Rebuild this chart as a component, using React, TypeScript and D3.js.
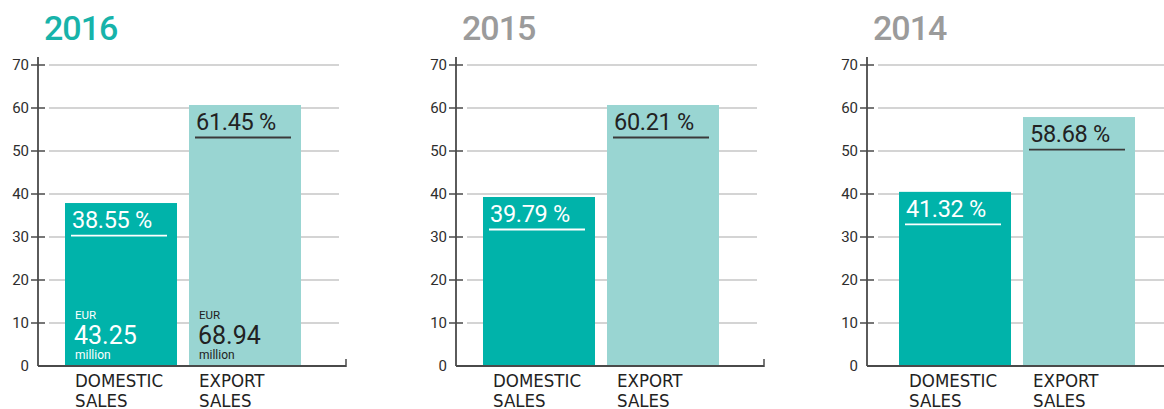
import React from 'react';
import * as d3 from 'd3';

const years = ['2016', '2015', '2014'];
const categories = ['DOMESTIC SALES', 'EXPORT SALES'];
const domesticShare = ['38.55 %', '39.79 %', '41.32 %'];
const exportShare = ['61.45 %', '60.21 %', '58.68 %'];
// bar heights as drawn in the source (slightly under the printed share)
const domesticBar = [37.9, 39.3, 40.5];
const exportBar = [60.7, 60.7, 57.9];
const revenue2016 = ['43.25', '68.94'];
const yTicks = [0, 10, 20, 30, 40, 50, 60, 70];

const W = 1164;
const H = 409;
const axisXs = [38, 456, 867];
const barStarts = [65, 483, 899];

const TEAL = '#00b3aa';
const LIGHT = '#99d5d2';
const DARK = '#222222';
const AXIS = '#4a4a4a';
const GRID = '#c6c6c6';

const numFont = 'Roboto, "DejaVu Sans", sans-serif';
const narrowFont = '"Liberation Sans Narrow", "DejaVu Sans Condensed", Roboto, sans-serif';

const y = d3.scaleLinear().domain([0, 70]).range([366, 65]);

const Panel: React.FC<{ i: number }> = ({ i }) => {
    const ax = axisXs[i];
    const x = d3.scaleBand<string>()
        .domain(categories)
        .range([barStarts[i], barStarts[i] + 236])
        .paddingInner(12 / 124)
        .paddingOuter(0);
    const values = [domesticBar[i], exportBar[i]];
    const shares = [domesticShare[i], exportShare[i]];
    const gridEnd = Math.min(ax + 301, W);

    return (
        <g>
            <text x={ax + 6} y={40} fontFamily={numFont} fontWeight={500} fontSize={34}
                letterSpacing={-1} fill={i === 0 ? '#17b3aa' : '#9b9b9b'}>{years[i]}</text>

            {yTicks.filter(t => t > 0).map(t => (
                <line key={t} x1={ax + 11} x2={gridEnd} y1={y(t)} y2={y(t)}
                    stroke={GRID} strokeWidth={1.5} />
            ))}

            {categories.map((c, j) => {
                const bx = x(c)!;
                const top = y(values[j]);
                const fg = j === 0 ? '#ffffff' : DARK;
                return (
                    <g key={c}>
                        <rect x={bx} y={top} width={x.bandwidth()} height={y(0) - top}
                            fill={j === 0 ? TEAL : LIGHT} />
                        <text x={bx + 7} y={top + 25} fontFamily={numFont} fontSize={23.5} fill={fg}
                            letterSpacing={-0.3}>{shares[j]}</text>
                        <line x1={bx + 6} x2={bx + 102} y1={top + 32.5} y2={top + 32.5}
                            stroke={j === 0 ? '#ffffff' : '#3a3a3a'} strokeWidth={1.8} />
                        {i === 0 && (
                            <g fill={fg} fontFamily={numFont}>
                                <text x={bx + 10} y={319} fontSize={11.5}>EUR</text>
                                <text x={bx + 9} y={344} fontSize={25}>{revenue2016[j]}</text>
                                <text x={bx + 10} y={359} fontSize={12}>million</text>
                            </g>
                        )}
                        {c.split(' ').map((w, k) => (
                            <text key={w} x={bx + 10} y={387 + k * 19.5} fontFamily={narrowFont}
                                fontSize={18.5} fill={DARK}>{w}</text>
                        ))}
                    </g>
                );
            })}

            <line x1={ax} x2={ax} y1={57} y2={y(0)} stroke={AXIS} strokeWidth={1.8} />
            <line x1={ax} x2={ax + 308} y1={y(0)} y2={y(0)} stroke={AXIS} strokeWidth={1.8} />
            <line x1={ax + 308} x2={ax + 308} y1={y(0) - 7} y2={y(0) + 0.9} stroke={AXIS} strokeWidth={1.5} />

            {yTicks.map(t => (
                <g key={t}>
                    {t > 0 && (
                        <line x1={ax - 7} x2={ax + 7} y1={y(t)} y2={y(t)} stroke={AXIS} strokeWidth={1.5} />
                    )}
                    <text x={ax - 9} y={y(t)} dy="0.36em" textAnchor="end" fontFamily={numFont}
                        fontSize={15} fill="#2e2e2e">{t}</text>
                </g>
            ))}
        </g>
    );
};

export default function App() {
    return (
        <svg width={W} height={H} viewBox={`0 0 ${W} ${H}`}
            style={{ position: 'absolute', left: 0, top: 0, display: 'block', background: '#ffffff' }}>
            {years.map((_, i) => <Panel key={i} i={i} />)}
        </svg>
    );
}
